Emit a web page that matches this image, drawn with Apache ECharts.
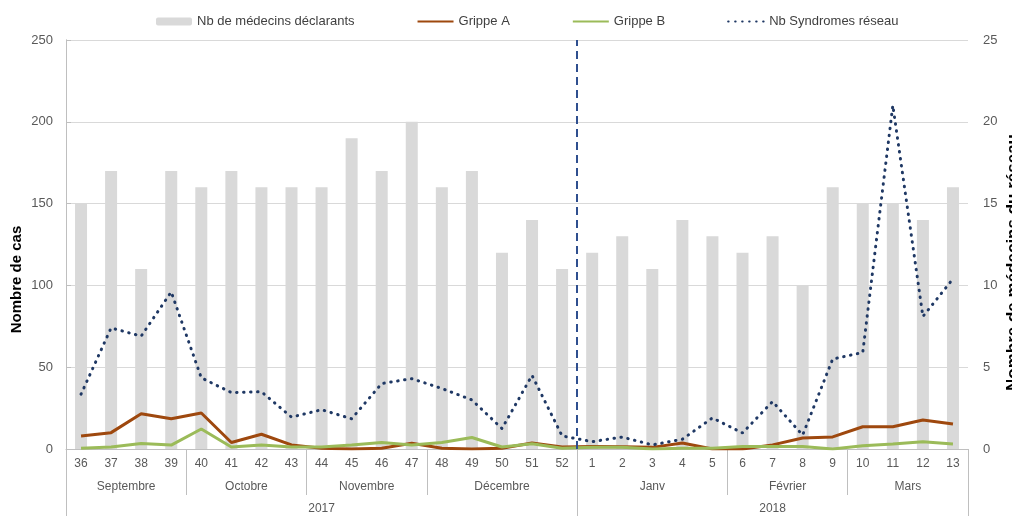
<!DOCTYPE html>
<html>
<head>
<meta charset="utf-8">
<script src="https://cdn.jsdelivr.net/npm/echarts@6/dist/echarts.min.js"></script>
<style>html,body{margin:0;padding:0;background:#fff}#c{width:1012px;height:516px}</style>
</head>
<body>
<div id="c"></div>
<script>
const weeks = ['36','37','38','39','40','41','42','43','44','45','46','47','48','49','50','51','52','1','2','3','4','5','6','7','8','9','10','11','12','13'];
const medecins = [15,17,11,17,16,17,16,16,16,19,17,20,16,17,12,14,11,12,13,11,14,13,12,13,10,16,15,15,14,16];
const grippeA = [8,10,21.5,18.5,22,4,9,2.5,0.5,0,0.5,3.5,0.5,0,0.5,3.7,1.2,1.5,1.3,1,3.7,0,0,2.5,6.7,7.4,13.6,13.6,17.7,15.3];
const grippeB = [0.5,1.2,3.3,2.4,12.2,1.2,2.4,1.2,1.2,2.4,4,2.4,4,7,1.2,3.2,0.4,1,1,0,0.5,0.5,1.5,1.5,1.5,0,2,3,4.5,3];
const syndromes = [33.5,74,69,96,43.5,34.5,35,19.5,24,18.5,40,43,37,30,12.5,45,8,4.5,7.3,2.5,6,19,9.8,29,8.5,55,59,210,81,104];
const monthNames = ['Septembre','Octobre','Novembre','Décembre','Janv','Février','Mars'];
const monthCenters = [2,6,10,14.5,19.5,24,28];
const monthBounds = [4,8,12,22,26];
const yearNames = ['2017','2018'];
const yearCenters = [8.5,23.5];
const yearBounds = [0,17,30];
const yearBreak = 17;

const FONT = 'Liberation Sans';
const labelColor = '#595959';
const monthMap = {}; monthCenters.forEach((v,i)=>monthMap[String(v)] = monthNames[i]);
const yearMap = {}; yearCenters.forEach((v,i)=>yearMap[String(v)] = yearNames[i]);
const hiddenSym = {opacity: 0};

const chart = echarts.init(document.getElementById('c'), null, {renderer:'canvas'});
chart.setOption({
  animation: false,
  textStyle: {fontFamily: FONT},
  legend: {
    data: [
      {name: 'Nb de médecins déclarants'},
      {name: 'Grippe A', itemStyle: hiddenSym},
      {name: 'Grippe B', itemStyle: hiddenSym},
      {name: 'Nb Syndromes réseau', itemStyle: hiddenSym}
    ],
    left: 151, top: 10,
    itemWidth: 36, itemHeight: 8, itemGap: 62,
    textStyle: {fontFamily: FONT, fontSize: 13, color: '#404040'}
  },
  grid: {left: 66, right: 44, top: 40, bottom: 67, containLabel: false, outerBoundsMode: 'none'},
  xAxis: [
    {
      type: 'category', data: weeks, position: 'bottom',
      axisLine: {show: true, lineStyle: {color: '#bfbfbf', width: 1}},
      axisTick: {show: false},
      axisLabel: {interval: 0, margin: 9, fontSize: 12, color: labelColor, fontFamily: FONT},
      splitLine: {show: false}
    },
    {
      type: 'value', min: 0, max: 30, position: 'bottom',
      axisLine: {show: false},
      axisTick: {show: true, customValues: monthBounds, length: 46, lineStyle: {color: '#bfbfbf'}},
      axisLabel: {customValues: monthCenters, margin: 32, fontSize: 12, color: labelColor, fontFamily: FONT,
        formatter: v => monthMap[String(v)] || ''},
      splitLine: {show: false}
    },
    {
      type: 'value', min: 0, max: 30, position: 'bottom',
      axisLine: {show: false},
      axisTick: {show: true, customValues: yearBounds, length: 70, lineStyle: {color: '#bfbfbf'}},
      axisLabel: {customValues: yearCenters, margin: 54, fontSize: 12, color: labelColor, fontFamily: FONT,
        formatter: v => yearMap[String(v)] || ''},
      splitLine: {show: false}
    }
  ],
  yAxis: [
    {
      type: 'value', min: 0, max: 250, interval: 50, position: 'left',
      name: 'Nombre de cas', nameLocation: 'middle', nameGap: 42, nameRotate: 90,
      nameMoveOverlap: false,
      nameTextStyle: {fontSize: 15, fontWeight: 'bold', color: '#000', fontFamily: FONT, padding: [0,70,0,0]},
      axisLine: {show: true, lineStyle: {color: '#bfbfbf'}},
      axisTick: {show: false},
      axisLabel: {margin: 13, fontSize: 13, color: labelColor, fontFamily: FONT},
      splitLine: {show: true, lineStyle: {color: '#d9d9d9', width: 1}}
    },
    {
      type: 'value', min: 0, max: 25, interval: 5, position: 'right',
      name: 'Nombre de médecins du réseau', nameLocation: 'middle', nameGap: 37, nameRotate: 90,
      nameMoveOverlap: false,
      nameTextStyle: {fontSize: 17, fontWeight: 'bold', color: '#000', fontFamily: FONT, padding: [0,36,0,0]},
      axisLine: {show: true, lineStyle: {color: '#bfbfbf'}},
      axisTick: {show: true, length: 5, lineStyle: {color: '#bfbfbf'}},
      axisLabel: {margin: 15, fontSize: 13, color: labelColor, fontFamily: FONT},
      splitLine: {show: false}
    }
  ],
  series: [
    {
      name: 'Nb de médecins déclarants', type: 'bar', xAxisIndex: 0, yAxisIndex: 1,
      data: medecins, barWidth: 12, itemStyle: {color: '#d9d9d9'}, z: 1
    },
    {
      name: 'Grippe A', type: 'line', xAxisIndex: 0, yAxisIndex: 0, data: grippeA,
      symbol: 'none', lineStyle: {color: '#9e480e', width: 3}, itemStyle: {color: '#9e480e'}, z: 3
    },
    {
      name: 'Grippe B', type: 'line', xAxisIndex: 0, yAxisIndex: 0, data: grippeB,
      symbol: 'none', lineStyle: {color: '#9bbb59', width: 3}, itemStyle: {color: '#9bbb59'}, z: 3
    },
    {
      name: 'Nb Syndromes réseau', type: 'line', xAxisIndex: 0, yAxisIndex: 0, data: syndromes,
      symbol: 'none', lineStyle: {color: '#1f3864', width: 3, type: [0.5, 6.5], cap: 'round'},
      itemStyle: {color: '#1f3864'}, z: 4
    },
    {
      name: 'sep', type: 'line', xAxisIndex: 1, yAxisIndex: 0, data: [],
      markLine: {
        silent: true, symbol: 'none', label: {show: false},
        lineStyle: {color: '#2f4f8f', width: 2, type: [8, 5]},
        data: [{xAxis: yearBreak}]
      }, z: 2
    }
  ]
});
</script>
</body>
</html>
